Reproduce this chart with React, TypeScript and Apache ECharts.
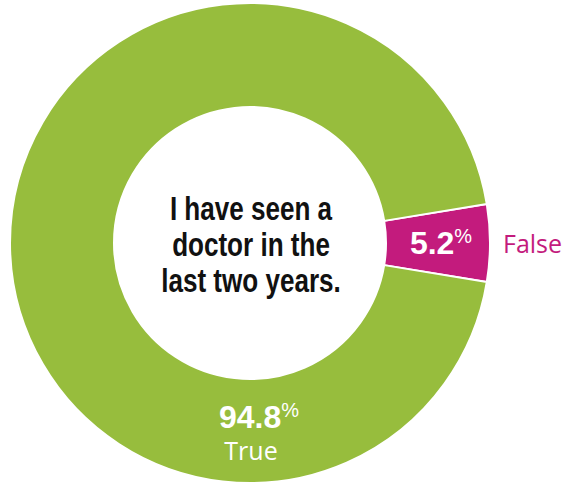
import React, { useEffect, useRef } from "react";
import * as echarts from "echarts";

const categories = ["False", "True"];
const values = [5.2, 94.8];
const sliceColors = ["#C31B7D", "#97BD3D"];
const centerLines = ["I have seen a", "doctor in the", "last two years."];

export default function App() {
  const ref = useRef<HTMLDivElement>(null);

  useEffect(() => {
    const el = ref.current;
    if (!el) return;
    const chart = echarts.init(el, null, { renderer: "svg" });
    const total = values.reduce((a, b) => a + b, 0);
    const startAngle = ((values[0] / total) * 360) / 2;
    const cx = 250;
    const cy = 243;
    const ri = 136;
    const ro = 240;
    const data = categories.map((name, i) => ({
      name,
      value: values[i],
      itemStyle: { color: sliceColors[i] },
    }));
    const numFont = "Liberation Sans";
    chart.setOption({
      animation: false,
      backgroundColor: "#ffffff",
      graphic: [
        {
          type: "text",
          x: 251,
          y: 244,
          scaleX: 0.79,
          silent: true,
          style: {
            text: centerLines.join("\n"),
            fill: "#111111",
            fontFamily: "Liberation Sans",
            fontWeight: "bold",
            fontSize: 33,
            lineHeight: 36,
            align: "center",
            verticalAlign: "middle",
          },
        },
      ],
      series: [
        {
          type: "pie",
          center: [cx, cy],
          radius: [ri, ro],
          startAngle,
          clockwise: true,
          avoidLabelOverlap: false,
          emphasis: { disabled: true },
          silent: true,
          itemStyle: { borderColor: "#ffffff", borderWidth: 2 },
          label: {
            show: true,
            position: "inside",
            formatter: (p: any) =>
              `{num|${p.value}}{pct|%}` + (p.dataIndex === 1 ? `\n{name|${p.name}}` : ""),
            rich: {
              num: {
                fontFamily: numFont,
                fontWeight: "bold",
                fontSize: 32,
                color: "#ffffff",
                lineHeight: 34,
              },
              pct: {
                fontFamily: numFont,
                fontSize: 20,
                color: "#ffffff",
                lineHeight: 20,
                verticalAlign: "top",
              },
              name: {
                fontFamily: "Open Sans",
                fontSize: 25,
                color: "#ffffff",
                lineHeight: 32,
                padding: [0, 16, 0, 0],
              },
            },
          },
          labelLine: { show: false },
          labelLayout: (p: any) =>
            p.dataIndex === 1
              ? { x: cx + 9, y: cy + (ri + ro) / 2 + 2, align: "center", verticalAlign: "middle" }
              : {},
          data,
        },
        {
          type: "pie",
          center: [cx, cy],
          radius: [ri, ro],
          startAngle,
          clockwise: true,
          avoidLabelOverlap: false,
          emphasis: { disabled: true },
          silent: true,
          itemStyle: { color: "transparent", borderWidth: 0 },
          label: {
            show: true,
            position: "outside",
            formatter: (p: any) => (p.dataIndex === 0 ? p.name : ""),
            fontFamily: "Open Sans",
            fontSize: 25,
            color: sliceColors[0],
          },
          labelLine: { show: false, length: 4, length2: 4 },
          data: categories.map((name, i) => ({ name, value: values[i] })),
        },
      ],
    });
    return () => chart.dispose();
  }, []);

  return (
    <div
      ref={ref}
      style={{ position: "fixed", left: 0, top: 0, width: 582, height: 483 }}
    />
  );
}
